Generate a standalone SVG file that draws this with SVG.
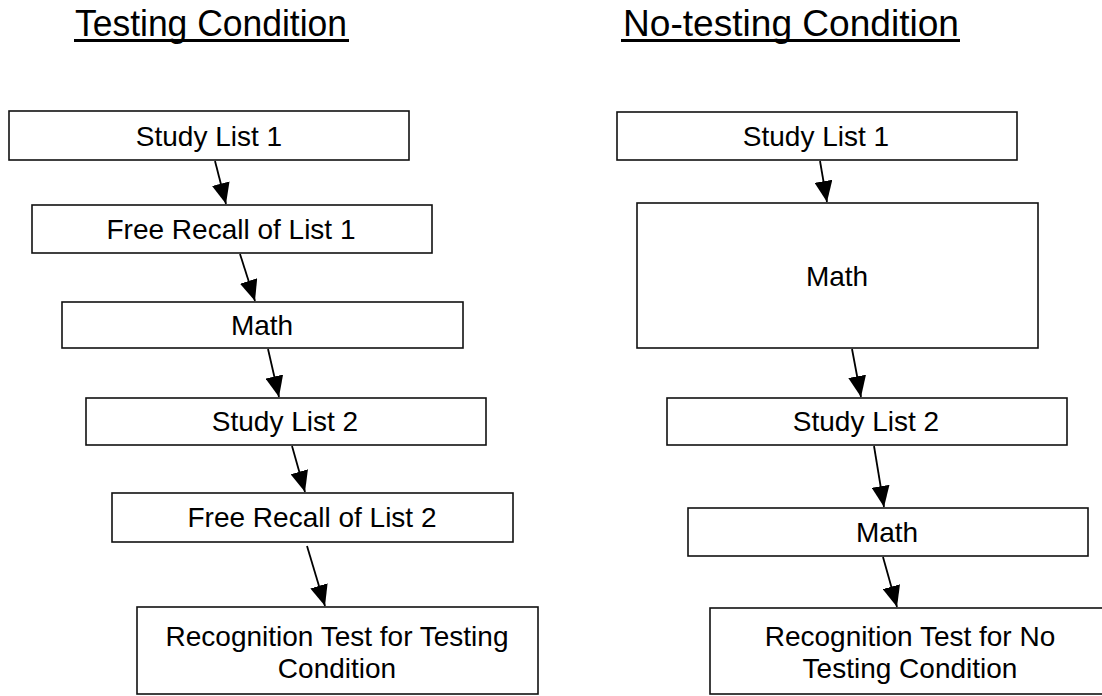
<svg xmlns="http://www.w3.org/2000/svg" width="1102" height="696" viewBox="0 0 1102 696">
<style>
.box{fill:#fff;stroke:#111;stroke-width:1.6}
.t{font-family:"Liberation Sans",Arial,sans-serif;font-size:28px;fill:#000;text-anchor:middle}
.title{font-family:"Liberation Sans",Arial,sans-serif;font-size:36px;fill:#000;text-anchor:middle}
.ul{stroke:#000;stroke-width:3}
.edge{stroke:#000;stroke-width:1.8;fill:none;marker-end:url(#ah)}
</style>
<defs>
<marker id="ah" markerUnits="userSpaceOnUse" markerWidth="22" markerHeight="18" refX="21" refY="9" orient="auto">
<polygon points="0,0 21,9 0,18" fill="#000"/>
</marker>
</defs>
<g id="titles">
<text class="title" x="211" y="36" textLength="272" lengthAdjust="spacingAndGlyphs">Testing Condition</text>
<line class="ul" x1="74" y1="40.5" x2="349" y2="40.5"/>
<text class="title" x="791" y="36" textLength="336" lengthAdjust="spacingAndGlyphs">No-testing Condition</text>
<line class="ul" x1="621" y1="40.5" x2="960" y2="40.5"/>
</g>
<g id="connectors">
<line class="edge" x1="215" y1="161" x2="226" y2="204"/>
<line class="edge" x1="240" y1="254" x2="255" y2="301"/>
<line class="edge" x1="268" y1="349" x2="279" y2="397"/>
<line class="edge" x1="292" y1="446" x2="305" y2="492"/>
<line class="edge" x1="307" y1="546" x2="325" y2="606"/>
<line class="edge" x1="820" y1="161" x2="827" y2="202"/>
<line class="edge" x1="852" y1="349" x2="861" y2="397"/>
<line class="edge" x1="874" y1="446" x2="884" y2="507"/>
<line class="edge" x1="883" y1="557" x2="897" y2="607"/>
</g>
<g id="L1"><rect class="box" x="9" y="111" width="400" height="49"/><text class="t" x="209" y="146">Study List 1</text></g>
<g id="L2"><rect class="box" x="32" y="205" width="400" height="48"/><text class="t" x="231" y="239">Free Recall of List 1</text></g>
<g id="L3"><rect class="box" x="62" y="302" width="401" height="46"/><text class="t" x="262" y="335">Math</text></g>
<g id="L4"><rect class="box" x="86" y="398" width="400" height="47"/><text class="t" x="285" y="431">Study List 2</text></g>
<g id="L5"><rect class="box" x="112" y="493" width="401" height="49"/><text class="t" x="312" y="527">Free Recall of List 2</text></g>
<g id="L6"><rect class="box" x="137" y="607" width="401" height="87"/><text class="t" x="337" y="646">Recognition Test for Testing</text><text class="t" x="337" y="678">Condition</text></g>
<g id="R1"><rect class="box" x="617" y="112" width="400" height="48"/><text class="t" x="816" y="146">Study List 1</text></g>
<g id="R2"><rect class="box" x="637" y="203" width="401" height="145"/><text class="t" x="837" y="286">Math</text></g>
<g id="R3"><rect class="box" x="667" y="398" width="400" height="47"/><text class="t" x="866" y="431">Study List 2</text></g>
<g id="R4"><rect class="box" x="688" y="508" width="400" height="48"/><text class="t" x="887" y="542">Math</text></g>
<g id="R5"><rect class="box" x="710" y="608" width="400" height="86"/><text class="t" x="910" y="646">Recognition Test for No</text><text class="t" x="910" y="678">Testing Condition</text></g>
</svg>
